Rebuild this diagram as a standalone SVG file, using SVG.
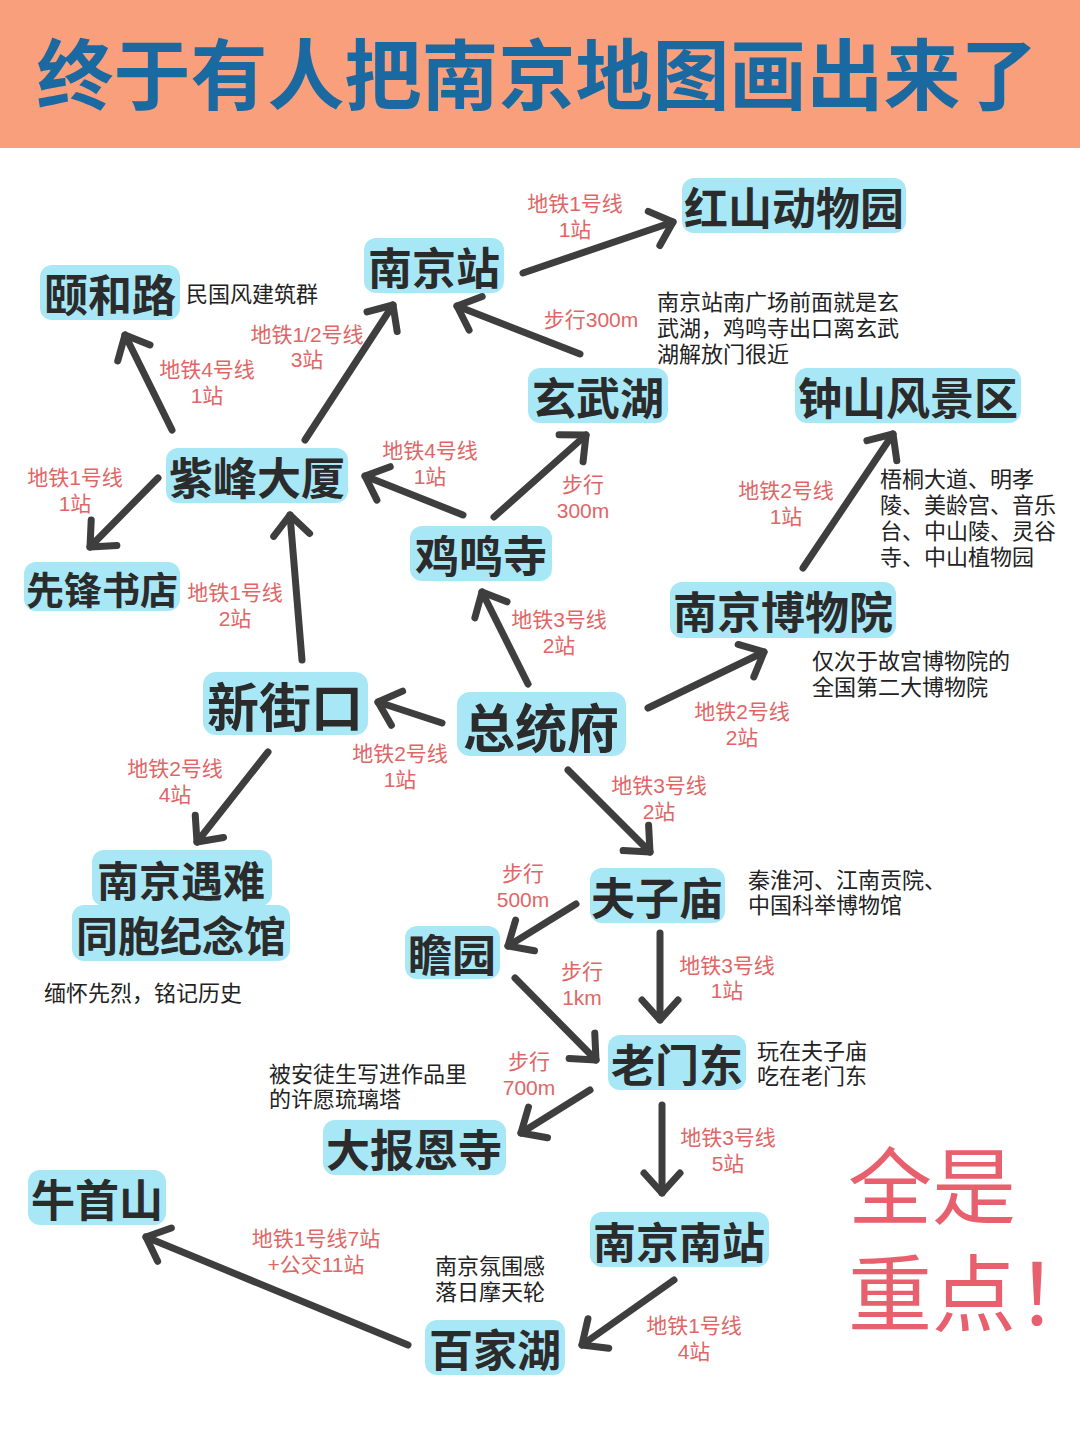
<svg xmlns="http://www.w3.org/2000/svg" width="1080" height="1440" viewBox="0 0 1080 1440">
<defs>
<style>
.bg{fill:#ffffff}
.node rect{fill:#A8E8F6}
.node text{font-family:"Noto Sans CJK SC","Noto Sans",sans-serif;font-weight:700;fill:#2B2B2B;text-anchor:middle;dominant-baseline:central}
.note{font-family:"Liberation Sans","Noto Sans CJK SC",sans-serif;font-size:22px;fill:#222222}
.lbl{font-family:"Liberation Sans","Noto Sans CJK SC",sans-serif;font-size:21px;fill:#E06666;text-anchor:middle}
.conn line{stroke:#3E3E3E;stroke-width:7;stroke-linecap:round;fill:none}
</style>
<marker id="ah" markerUnits="userSpaceOnUse" viewBox="-30 -30 40 60" markerWidth="40" markerHeight="60" refX="0" refY="0" orient="auto" overflow="visible">
<path d="M-20,-18 L0,0 L-20,18" fill="none" stroke="#3E3E3E" stroke-width="7" stroke-linecap="round" stroke-linejoin="round"/>
</marker>
</defs>
<rect class="bg" x="0" y="0" width="1080" height="1440"/>
<g id="title">
<rect x="0" y="0" width="1080" height="148" fill="#FA9F7C"/>
<text x="537" y="104" font-family="Noto Sans CJK SC, sans-serif" font-weight="700" font-size="77" fill="#1B69A1" text-anchor="middle">终于有人把南京地图画出来了</text>
</g>

<g id="connectors" class="conn">
<line x1="523" y1="273" x2="673" y2="222" marker-end="url(#ah)"/>
<line x1="580" y1="354" x2="457" y2="306" marker-end="url(#ah)"/>
<line x1="172" y1="430" x2="125" y2="335" marker-end="url(#ah)"/>
<line x1="305" y1="440" x2="393" y2="305" marker-end="url(#ah)"/>
<line x1="158" y1="478" x2="90" y2="547" marker-end="url(#ah)"/>
<line x1="463" y1="515" x2="365" y2="476" marker-end="url(#ah)"/>
<line x1="494" y1="517" x2="586" y2="435" marker-end="url(#ah)"/>
<line x1="803" y1="568" x2="893" y2="434" marker-end="url(#ah)"/>
<line x1="528" y1="684" x2="482" y2="592" marker-end="url(#ah)"/>
<line x1="648" y1="708" x2="764" y2="652" marker-end="url(#ah)"/>
<line x1="442" y1="723" x2="378" y2="702" marker-end="url(#ah)"/>
<line x1="302" y1="660" x2="290" y2="515" marker-end="url(#ah)"/>
<line x1="268" y1="752" x2="197" y2="842" marker-end="url(#ah)"/>
<line x1="568" y1="770" x2="650" y2="852" marker-end="url(#ah)"/>
<line x1="576" y1="904" x2="508" y2="946" marker-end="url(#ah)"/>
<line x1="515" y1="978" x2="596" y2="1060" marker-end="url(#ah)"/>
<line x1="660" y1="933" x2="660" y2="1020" marker-end="url(#ah)"/>
<line x1="590" y1="1090" x2="521" y2="1133" marker-end="url(#ah)"/>
<line x1="662" y1="1105" x2="662" y2="1193" marker-end="url(#ah)"/>
<line x1="674" y1="1280" x2="582" y2="1345" marker-end="url(#ah)"/>
<line x1="408" y1="1345" x2="146" y2="1237" marker-end="url(#ah)"/>
</g>

<g id="n-hongshan" class="node"><rect x="682" y="178" width="224" height="55" rx="12"/><text x="794" y="206" font-size="44">红山动物园</text></g>
<g id="n-nanjingzhan" class="node"><rect x="364" y="238" width="140" height="55" rx="12"/><text x="434" y="266" font-size="44">南京站</text></g>
<g id="n-yihelu" class="node"><rect x="40" y="265" width="140" height="55" rx="12"/><text x="110" y="293" font-size="44">颐和路</text></g>
<g id="n-xuanwuhu" class="node"><rect x="528" y="368" width="140" height="55" rx="12"/><text x="598" y="396" font-size="44">玄武湖</text></g>
<g id="n-zhongshan" class="node"><rect x="795" y="368" width="226" height="55" rx="12"/><text x="908" y="396" font-size="44">钟山风景区</text></g>
<g id="n-zifeng" class="node"><rect x="166" y="448" width="182" height="55" rx="12"/><text x="257" y="476" font-size="44">紫峰大厦</text></g>
<g id="n-jimingsi" class="node"><rect x="410" y="526" width="142" height="55" rx="12"/><text x="481" y="554" font-size="44">鸡鸣寺</text></g>
<g id="n-xianfeng" class="node"><rect x="24" y="562" width="156" height="49" rx="12"/><text x="102" y="587" font-size="38">先锋书店</text></g>
<g id="n-bowuyuan" class="node"><rect x="670" y="582" width="226" height="56" rx="12"/><text x="783" y="610" font-size="44">南京博物院</text></g>
<g id="n-xinjiekou" class="node"><rect x="203" y="672" width="165" height="63" rx="13"/><text x="285" y="704" font-size="52">新街口</text></g>
<g id="n-zongtongfu" class="node"><rect x="457" y="692" width="169" height="64" rx="13"/><text x="541" y="725" font-size="52">总统府</text></g>
<g id="n-jinianguan" class="node"><rect x="92" y="850" width="180" height="56" rx="12"/><rect x="72" y="905" width="218" height="56" rx="12"/><text x="181" y="878" font-size="42">南京遇难</text><text x="181" y="933" font-size="42">同胞纪念馆</text></g>
<g id="n-fuzimiao" class="node"><rect x="590" y="868" width="135" height="55" rx="12"/><text x="657" y="896" font-size="44">夫子庙</text></g>
<g id="n-zhanyuan" class="node"><rect x="405" y="926" width="95" height="53" rx="12"/><text x="452" y="953" font-size="44">瞻园</text></g>
<g id="n-laomendong" class="node"><rect x="608" y="1035" width="138" height="55" rx="12"/><text x="677" y="1063" font-size="44">老门东</text></g>
<g id="n-dabaoen" class="node"><rect x="323" y="1120" width="183" height="55" rx="12"/><text x="414" y="1148" font-size="44">大报恩寺</text></g>
<g id="n-niushoushan" class="node"><rect x="28" y="1170" width="138" height="55" rx="12"/><text x="97" y="1198" font-size="44">牛首山</text></g>
<g id="n-nanjingnan" class="node"><rect x="590" y="1212" width="179" height="55" rx="12"/><text x="679" y="1240" font-size="43">南京南站</text></g>
<g id="n-baijiahu" class="node"><rect x="425" y="1320" width="140" height="55" rx="12"/><text x="495" y="1348" font-size="44">百家湖</text></g>

<g id="notes">
<text class="note" x="186" y="302">民国风建筑群</text>
<text class="note" x="657" y="310">南京站南广场前面就是玄<tspan x="657" dy="26">武湖，鸡鸣寺出口离玄武</tspan><tspan x="657" dy="26">湖解放门很近</tspan></text>
<text class="note" x="880" y="487">梧桐大道、明孝<tspan x="880" dy="26">陵、美龄宫、音乐</tspan><tspan x="880" dy="26">台、中山陵、灵谷</tspan><tspan x="880" dy="26">寺、中山植物园</tspan></text>
<text class="note" x="812" y="669">仅次于故宫博物院的<tspan x="812" dy="26">全国第二大博物院</tspan></text>
<text class="note" x="748" y="888">秦淮河、江南贡院、<tspan x="748" dy="25">中国科举博物馆</tspan></text>
<text class="note" x="44" y="1001">缅怀先烈，铭记历史</text>
<text class="note" x="757" y="1059">玩在夫子庙<tspan x="757" dy="25">吃在老门东</tspan></text>
<text class="note" x="269" y="1082">被安徒生写进作品里<tspan x="269" dy="25">的许愿琉璃塔</tspan></text>
<text class="note" x="435" y="1274">南京氛围感<tspan x="435" dy="26">落日摩天轮</tspan></text>
</g>

<g id="labels">
<text class="lbl" x="575" y="211">地铁1号线<tspan x="575" dy="26">1站</tspan></text>
<text class="lbl" x="591" y="327">步行300m</text>
<text class="lbl" x="307" y="342">地铁1/2号线<tspan x="307" dy="25">3站</tspan></text>
<text class="lbl" x="207" y="377">地铁4号线<tspan x="207" dy="26">1站</tspan></text>
<text class="lbl" x="75" y="485">地铁1号线<tspan x="75" dy="26">1站</tspan></text>
<text class="lbl" x="430" y="458">地铁4号线<tspan x="430" dy="26">1站</tspan></text>
<text class="lbl" x="583" y="492">步行<tspan x="583" dy="26">300m</tspan></text>
<text class="lbl" x="786" y="498">地铁2号线<tspan x="786" dy="26">1站</tspan></text>
<text class="lbl" x="235" y="600">地铁1号线<tspan x="235" dy="26">2站</tspan></text>
<text class="lbl" x="559" y="627">地铁3号线<tspan x="559" dy="26">2站</tspan></text>
<text class="lbl" x="742" y="719">地铁2号线<tspan x="742" dy="26">2站</tspan></text>
<text class="lbl" x="400" y="761">地铁2号线<tspan x="400" dy="26">1站</tspan></text>
<text class="lbl" x="175" y="776">地铁2号线<tspan x="175" dy="26">4站</tspan></text>
<text class="lbl" x="659" y="793">地铁3号线<tspan x="659" dy="26">2站</tspan></text>
<text class="lbl" x="523" y="881">步行<tspan x="523" dy="26">500m</tspan></text>
<text class="lbl" x="727" y="973">地铁3号线<tspan x="727" dy="25">1站</tspan></text>
<text class="lbl" x="582" y="979">步行<tspan x="582" dy="26">1km</tspan></text>
<text class="lbl" x="529" y="1069">步行<tspan x="529" dy="26">700m</tspan></text>
<text class="lbl" x="728" y="1145">地铁3号线<tspan x="728" dy="26">5站</tspan></text>
<text class="lbl" x="316" y="1246">地铁1号线7站<tspan x="316" dy="26">+公交11站</tspan></text>
<text class="lbl" x="694" y="1333">地铁1号线<tspan x="694" dy="26">4站</tspan></text>
</g>

<g id="slogan" font-family="Liberation Sans, Noto Sans CJK SC, sans-serif" font-size="84" fill="#E8606E">
<text x="848" y="1218">全是</text>
<text x="848" y="1325">重点<tspan letter-spacing="-26">！</tspan></text>
</g>
</svg>
